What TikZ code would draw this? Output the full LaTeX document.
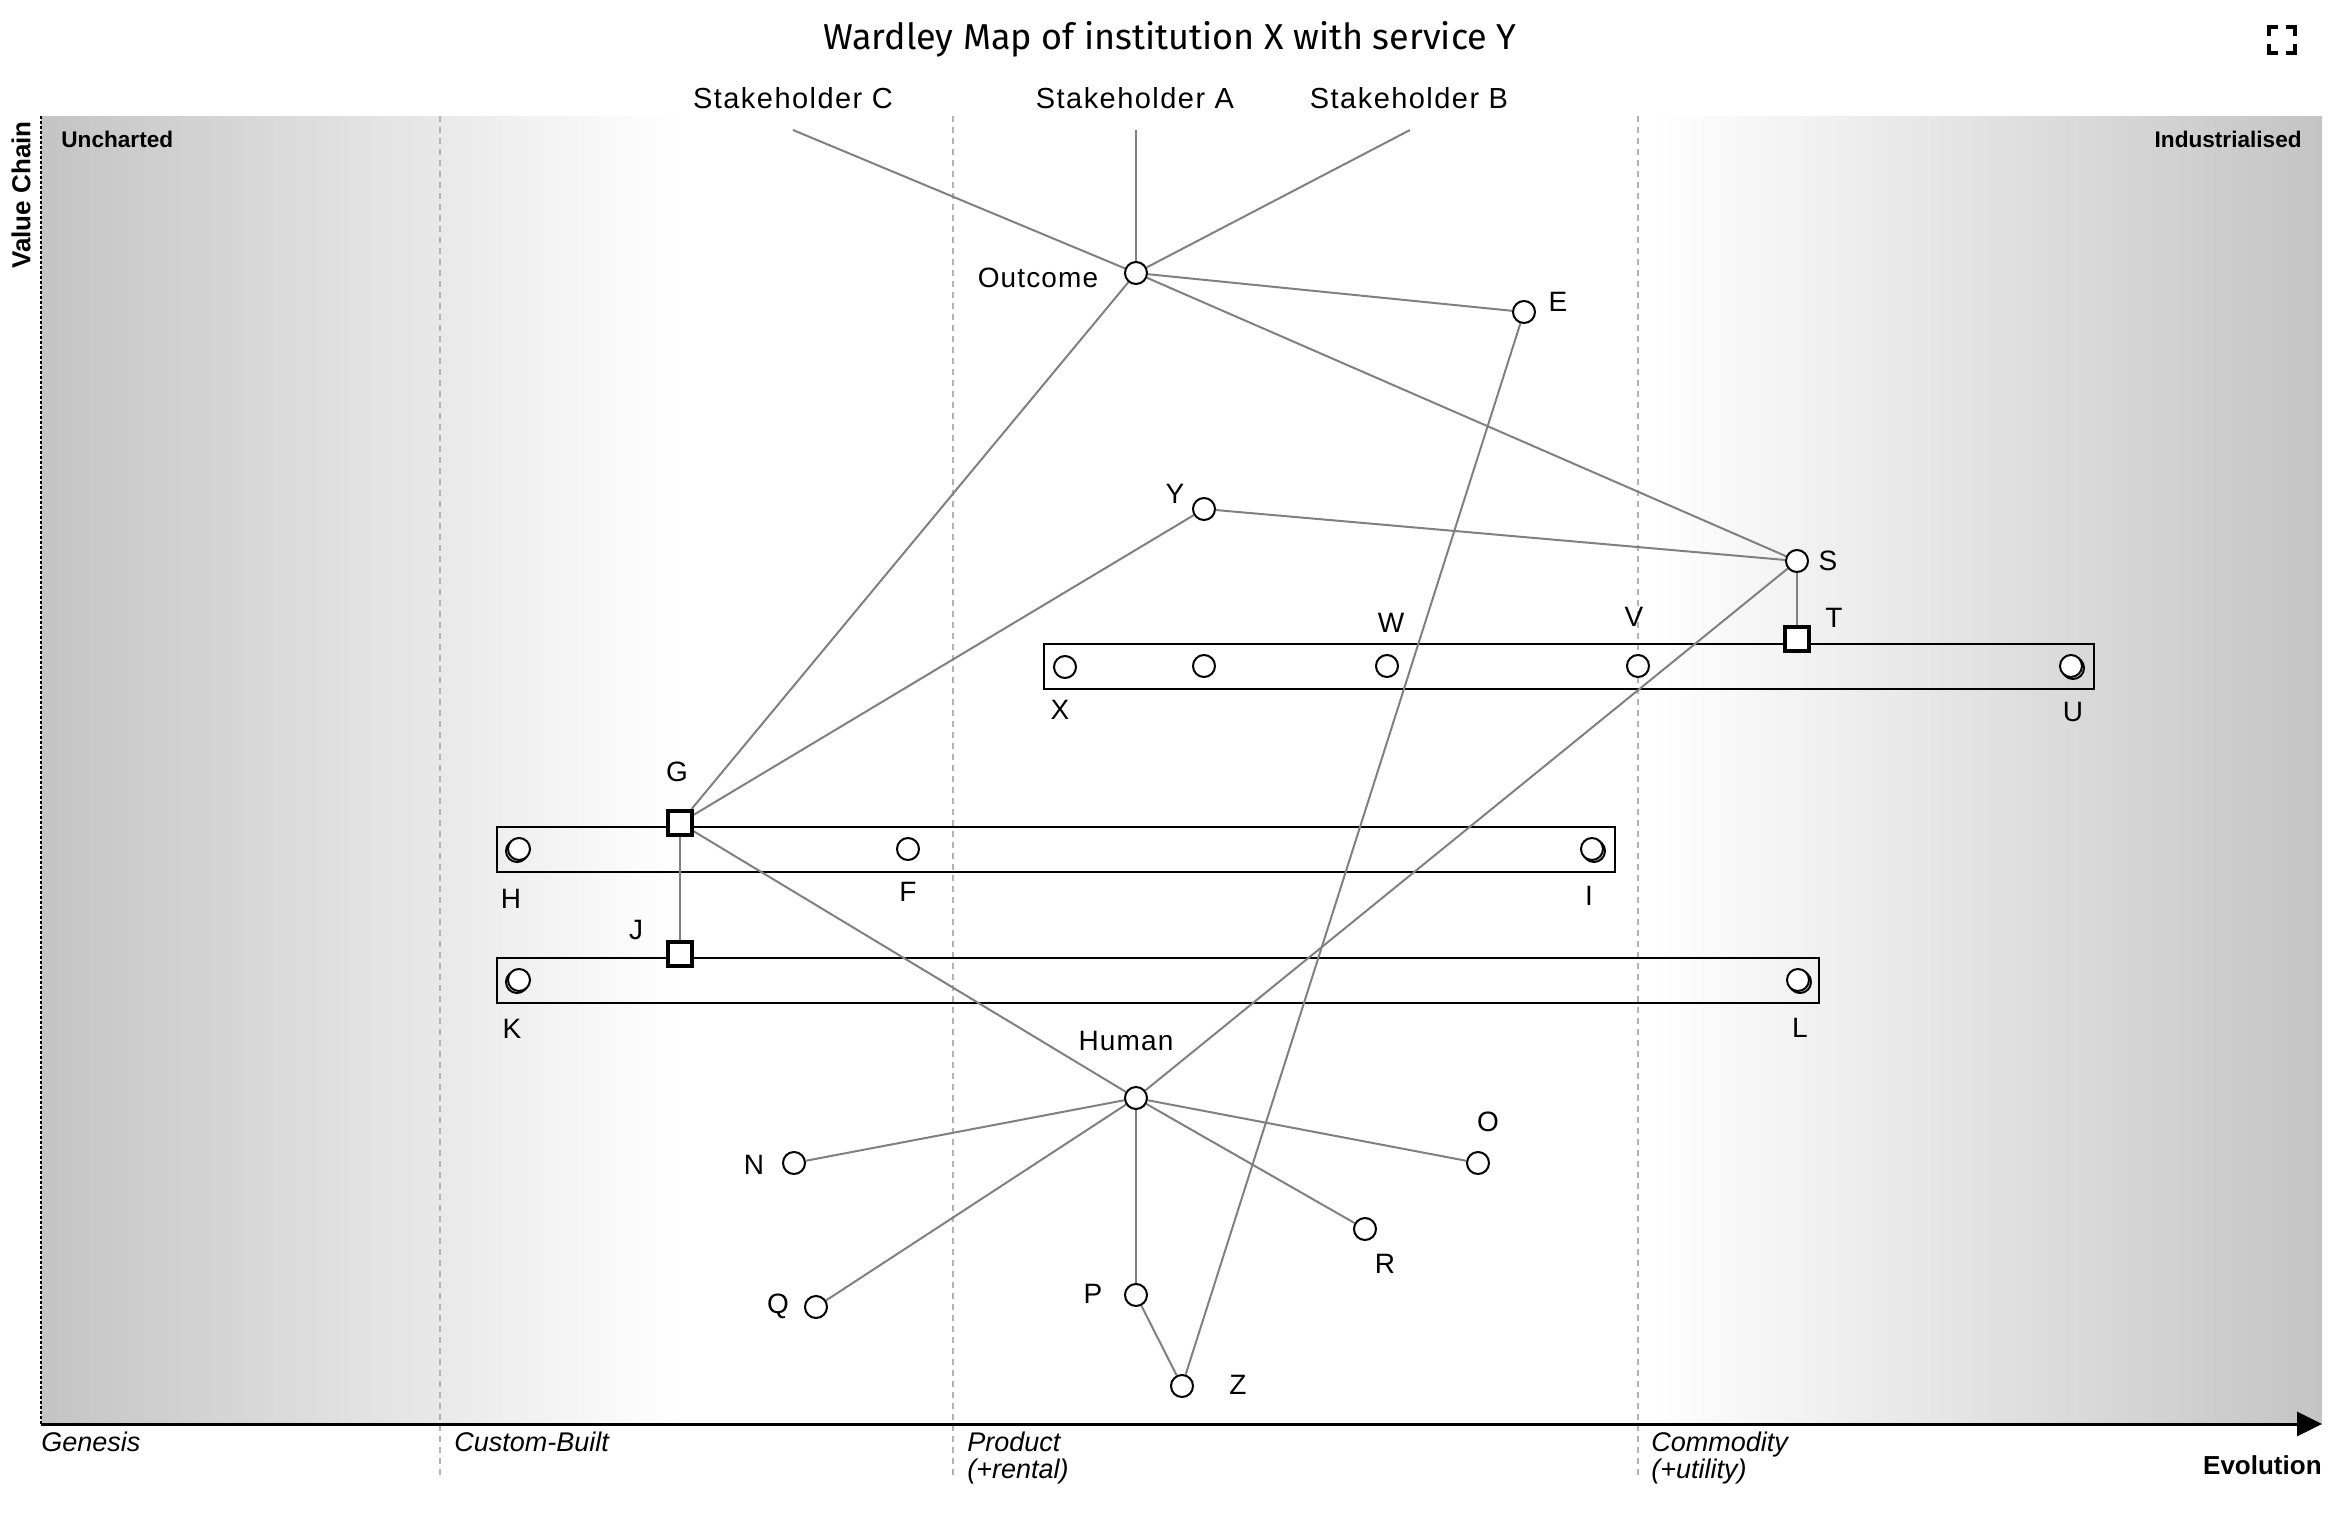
\documentclass[tikz,border=0pt]{standalone}
\usepackage{fontspec}
\setmainfont{Liberation Sans}
\newfontfamily\labelfont[LetterSpace=4]{Liberation Sans}
\newfontfamily\stakefont[LetterSpace=5]{Liberation Sans}
\newfontfamily\titlefont{Fira Sans}
\usetikzlibrary{arrows.meta,backgrounds,calc}
\definecolor{linkgray}{HTML}{808080}
\definecolor{edgegray}{HTML}{C4C4C4}
\tikzstyle{component}=[circle,draw=black,fill=white,line width=1pt,minimum size=11pt,inner sep=0pt]
\tikzstyle{anchorbox}=[rectangle,draw=black,fill=white,line width=1.75pt,minimum size=12pt,inner sep=0pt]
\tikzstyle{pipeline}=[rectangle,draw=black,line width=1pt,inner sep=0pt,minimum height=22.5pt]
\tikzstyle{link}=[draw=linkgray,line width=1pt]
\tikzstyle{stagedash}=[draw=black!30,line width=0.7pt,dash pattern=on 3pt off 2.5pt]
\tikzstyle{maplabel}=[inner sep=0pt,font=\labelfont\fontsize{14}{14}\selectfont]
\tikzstyle{stakelabel}=[inner sep=0pt,font=\stakefont\fontsize{14.5}{14.5}\selectfont]
\tikzstyle{stagelabel}=[inner sep=0pt,anchor=north west,align=left,font=\itshape\fontsize{13.5}{13.5}\selectfont]
\tikzstyle{cornerlabel}=[inner sep=0pt,font=\bfseries\fontsize{11.3}{11.3}\selectfont]
\tikzstyle{axislabel}=[inner sep=0pt,font=\bfseries\fontsize{13}{13}\selectfont]
\newcommand{\drawcomponent}[5]{
	\node[component] (#1) at (#2,#3) {};
	\node[maplabel] (#1text) at (#4,#5) {#1};
}
\newcommand{\drawstacked}[5]{
	\node[component] (#1back) at (#2,#3) {};
	\node[component] (#1) at ($(#2,#3)+(#4,#5)$) {};
}

\begin{document}
\begin{tikzpicture}[x=0.5pt,y=-0.5pt]
	\useasboundingbox (0,0) rectangle (2342,1526);
	\node[inner sep=0pt,font=\titlefont\fontsize{18}{18}\selectfont] (title) at (1170,39) {Wardley Map of institution X with service Y};

	% stakeholders
	\foreach \name/\x/\endx in {C/793/793,A/1135/1136,B/1409/1410} {
		\node[stakelabel] (stakeholder\name) at (\x,98) {Stakeholder \name};
		\coordinate (end\name) at (\endx,130);
	}

	% components
	\foreach \name/\x/\y/\lx/\ly in {
		Outcome/1136/273/1038/278, E/1524/312/1558/302, Y/1204/509/1175/494, S/1797/561/1828/561,
		W/1387/666/1391/623, V/1638/666/1634/617, X/1065/667/1060/710, F/908/849/908/892,
		Human/1136/1098/1126/1041, N/794/1163/754/1165, O/1478/1163/1488/1122, R/1365/1229/1385/1264,
		P/1136/1295/1093/1294, Q/816/1307/778/1306, Z/1182/1386/1238/1385} {
		\drawcomponent{\name}{\x}{\y}{\lx}{\ly}
	}
	\node[component] (unnamed) at (1204,666) {};

	% components drawn twice
	\drawstacked{H}{517}{851}{2}{-2}
	\drawstacked{K}{517}{982}{2}{-2}
	\drawstacked{I}{1594}{851}{-2}{-2}
	\drawstacked{L}{1800}{982}{-2}{-2}
	\drawstacked{U}{2073}{668}{-2}{-2}
	\foreach \name/\lx/\ly in {H/511/899,K/512/1029,I/1589/896,L/1800/1028,U/2073/712} {
		\node[maplabel] (\name text) at (\lx,\ly) {\name};
	}

	% anchored components
	\foreach \name/\x/\y/\lx/\ly in {G/680/823/677/772,J/680/954/636/930,T/1797/639/1834/618} {
		\node[anchorbox] (\name) at (\x,\y) {};
		\node[maplabel] (\name text) at (\lx,\ly) {\name};
	}

	% axes and texts
	\coordinate (origin) at (41,1424);
	\coordinate (top) at (41,116);
	\coordinate (tip) at (2322,1424);
	\node[stagelabel] (genesis) at (41,1432) {Genesis};
	\node[stagelabel] (custom) at (454,1432) {Custom-Built};
	\node[stagelabel] (product) at (967,1432) {Product\\(+rental)};
	\node[stagelabel] (commodity) at (1651,1432) {Commodity\\(+utility)};
	\node[axislabel,anchor=east] (evolution) at (2322,1465) {Evolution};
	\node[axislabel,rotate=90] (valuechain) at (21,195) {Value Chain};
	\node[cornerlabel,anchor=west] (uncharted) at (61,139) {Uncharted};
	\node[cornerlabel,anchor=east] (industrialised) at (2302,139) {Industrialised};

	\begin{scope}[on background layer]
		\shade[left color=edgegray,right color=white] (41,116) rectangle (680,1424);
		\shade[left color=white,right color=edgegray] (1650,116) rectangle (2322,1424);
		\foreach \x in {440,953,1638} {
			\draw[stagedash] (\x,116) -- (\x,1478);
		}
		\node[pipeline,minimum width=525pt] (pipeX) at (1569,666.5) {};
		\node[pipeline,minimum width=559pt] (pipeG) at (1056,849.5) {};
		\node[pipeline,minimum width=661pt] (pipeJ) at (1158,980.5) {};
		\foreach \a/\b in {endC/Outcome,endA/Outcome,endB/Outcome,Outcome/E,Outcome/S,Outcome/G,Y/S,Y/G,S/T,S/Human,G/J,G/Human,Human/N,Human/O,Human/R,Human/P,Human/Q,P/Z,Z/E} {
			\draw[link] (\a) -- (\b);
		}
	\end{scope}
	\draw[black,line width=1pt,dash pattern=on 1.5pt off 1pt] (top) -- (origin);
	\draw[black,line width=1.5pt,-{Triangle[length=12.5pt,width=12pt]}] (origin) -- (tip);

	% fullscreen mark
	\foreach \sx/\sy in {1/1,-1/1,1/-1,-1/-1} {
		\pgfmathsetmacro{\cx}{2281.5-\sx*13}
		\pgfmathsetmacro{\cy}{40-\sy*13}
		\draw[black,line width=2pt] (\cx,\cy+\sy*9) -- (\cx,\cy) -- (\cx+\sx*9,\cy);
	}
\end{tikzpicture}
\end{document}
